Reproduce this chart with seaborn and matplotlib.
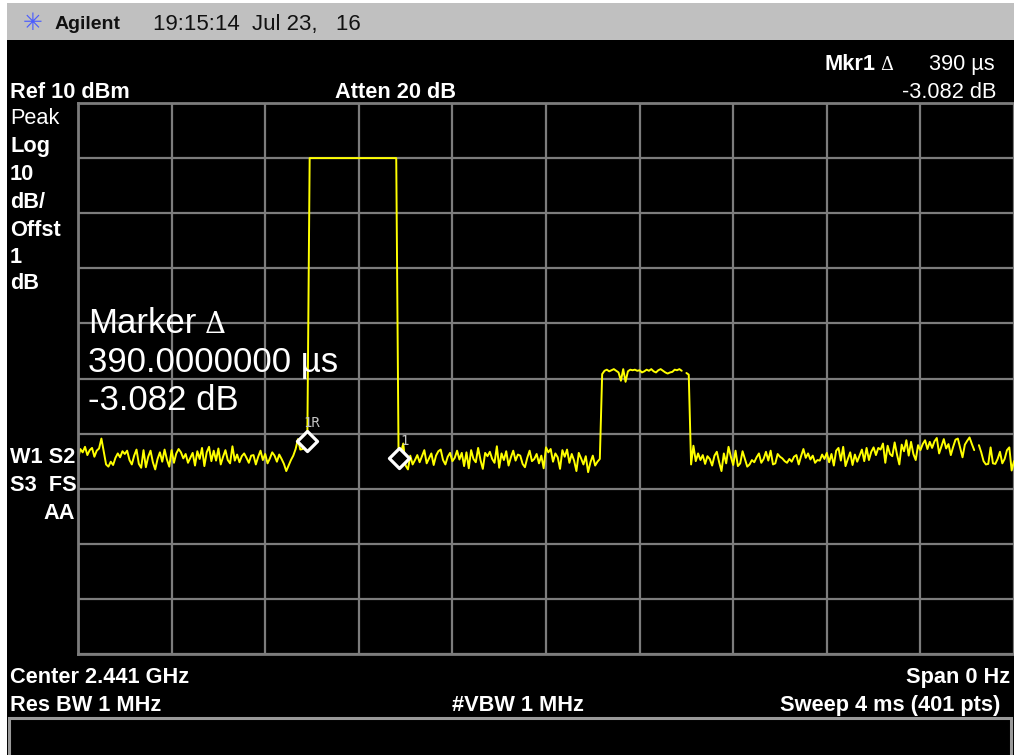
import numpy as np
import pandas as pd
import matplotlib
matplotlib.use("Agg")
import matplotlib.pyplot as plt
import seaborn as sns
from matplotlib.patches import Rectangle

sweep_ms = 4.0
n_pts = 401
ref_dbm = 10
db_per_div = 10

noise_a = [
    -54.6, -52.8, -53.4, -52.4, -53.9, -53.0, -52.6, -54.2, -53.1, -52.7,
    -50.9, -53.3, -55.6, -56.0, -55.1, -55.7, -54.4, -53.6, -54.3, -53.2,
    -53.7, -53.1, -54.8, -55.6, -54.0, -52.9, -55.5, -56.2, -53.0, -56.1,
    -54.2, -53.1, -55.2, -56.5, -54.6, -53.4, -55.1, -52.9, -54.7, -56.0,
    -53.0, -55.3, -53.6, -52.8, -53.4, -54.5, -53.7, -55.3, -54.4, -53.5,
    -55.8, -53.2, -54.6, -52.6, -55.9, -53.4, -52.4, -55.0, -53.1, -54.9,
    -52.7, -55.6, -54.2, -53.0, -54.8, -55.4, -52.3, -54.9, -53.8, -55.2,
    -54.1, -53.6, -54.4, -55.3, -54.0, -53.9, -55.6, -54.2, -53.1, -54.8,
    -53.7, -55.4, -54.5, -53.4, -54.0, -55.1, -53.8, -54.6, -55.5, -56.8,
    -55.8, -54.8, -54.0, -52.8, -51.0, -52.9, -52.8, -51.8,
]
mkr_ref_level = [-51.3]
pulse1 = [
    0.0, 0.0, 0.0, 0.0, 0.0, 0.0, 0.0, 0.0, 0.0, 0.0,
    0.0, 0.0, 0.0, 0.0, 0.0, 0.0, 0.0, 0.0, 0.0, 0.0,
    0.0, 0.0, 0.0, 0.0, 0.0, 0.0, 0.0, 0.0, 0.0, 0.0,
    0.0, 0.0, 0.0, 0.0, 0.0, 0.0, 0.0, 0.0,
]
mkr_delta_level = [-54.4]
noise_b = [
    -53.5, -51.8, -55.8, -56.5, -54.0, -55.6, -54.8, -53.9, -55.2, -54.1,
    -53.0, -55.4, -54.5, -53.6, -55.7, -54.0, -53.2, -52.9, -54.8, -55.6,
    -54.2, -53.5, -55.0, -54.4, -53.1, -54.7, -53.5, -55.9, -53.4, -56.3,
    -53.0, -54.6, -55.2, -52.6, -54.8, -56.4, -53.5, -54.1, -53.3, -54.6,
    -55.3, -52.3, -56.2, -53.6, -54.8, -53.2, -55.8, -54.3, -53.1, -54.9,
    -53.8, -54.0, -55.5, -56.1, -54.4, -53.1, -55.0, -54.6, -53.7, -55.4,
    -54.0, -56.3, -52.5, -53.4, -52.8, -55.1, -53.6, -54.3, -56.4, -53.0,
    -54.2, -52.9, -55.3, -53.7, -54.9, -56.8, -53.5, -54.5, -55.6, -54.1,
    -57.0, -55.2, -54.0, -55.8, -55.1, -54.6,
]
pulse2 = [
    -39.2, -38.6, -38.4, -38.7, -38.5, -38.3, -38.6, -38.9, -40.4, -38.3,
    -40.6, -38.7, -38.4, -38.5, -38.4, -38.6, -38.5, -38.9, -38.7, -38.4,
    -38.6, -38.3, -38.7, -38.9, -38.5, -38.3, -38.6, -38.9, -39.1, -38.9,
    -38.8, -38.4, -38.5, -38.3, -38.6, np.nan, -39.0, -39.3,
]
noise_c = [
    -55.6, -52.2, -55.0, -53.6, -54.8, -53.9, -55.5, -54.1, -54.6, -55.8,
    -54.0, -53.3, -55.2, -56.8, -53.6, -55.4, -52.4, -54.2, -55.7, -53.1,
    -55.9, -55.4, -53.2, -54.6, -56.0, -55.6, -54.8, -55.2, -54.3, -53.6,
    -55.3, -54.6, -53.3, -54.9, -53.1, -55.6, -55.4, -53.7, -54.2, -54.5,
    -55.0, -55.3, -54.6, -55.1, -54.2, -53.9, -55.6, -54.1, -52.8, -54.4,
    -53.6, -54.7, -54.0, -55.3, -54.8, -54.9, -53.8, -54.6, -53.5, -55.2,
    -53.7, -55.8, -53.1, -52.6, -54.9, -52.4, -55.9, -54.6, -53.4, -55.7,
    -53.8, -55.1, -54.0, -52.9, -55.0, -52.6, -54.8, -53.3, -52.5, -53.9,
    -52.6, -52.9, -51.8, -55.3, -52.2, -53.7, -54.1, -51.6, -53.8, -55.6,
    -52.0, -53.2, -51.2, -54.0, -51.5, -53.7, -54.8, -52.1, -53.0, -51.9,
    -51.2, -52.8, -51.5, -52.6, -51.4, -50.8, -53.6, -52.3, -51.0, -52.7,
    -51.9, -53.9, -52.4, -51.1, -50.9, -52.6, -54.3, -52.0, -51.3, -50.7,
    -51.9, -53.0, np.nan, -52.1, -53.4, -55.0, -55.6, -55.5, -52.5, -55.4,
    -55.5, -54.6, -53.3, -55.4, -54.6, -53.0, -52.5, -56.7, -55.0,
]
mkr_idx = [98, 137]
mkr_names = ["1R", "1"]

level = np.array(noise_a + mkr_ref_level + pulse1 + mkr_delta_level
                 + noise_b + pulse2 + noise_c, dtype=float)
assert len(level) == n_pts, len(level)
time_ms = np.arange(n_pts) * sweep_ms / (n_pts - 1)
seg = np.cumsum(np.isnan(level))
df = pd.DataFrame({"t": time_ms, "lvl": level, "seg": seg}).dropna()

# ---------------- figure ----------------
sns.set_theme(style="dark")
plt.rcParams["font.family"] = ["Liberation Sans", "DejaVu Sans"]

W, H = 1014, 755
fig = plt.figure(figsize=(W / 100, H / 100), dpi=100, facecolor="white")

bg = fig.add_axes([0, 0, 1, 1], zorder=-5)
bg.set_xlim(0, W)
bg.set_ylim(H, 0)
bg.axis("off")
bg.add_patch(Rectangle((7, 3), W - 7, 37, facecolor="#c0c0c0", edgecolor="none"))
bg.add_patch(Rectangle((7, 40), W - 7, H - 40, facecolor="black", edgecolor="none"))
bg.add_patch(Rectangle((9, 718), W - 12, 40, facecolor="black",
                       edgecolor="#9a9a9a", linewidth=2.2))

# plot area
x0, x1, y0, y1 = 78, 1014, 103, 654
ax = fig.add_axes([x0 / W, 1 - y1 / H, (x1 - x0) / W, (y1 - y0) / H], zorder=1)
ax.set_facecolor("black")
sns.lineplot(data=df, x="t", y="lvl", units="seg", estimator=None, sort=False,
             color="#ffff00", linewidth=1.4, ax=ax, legend=False)
sns.scatterplot(x=time_ms[mkr_idx], y=level[mkr_idx], marker="D", s=105,
                color="black", edgecolor="white", linewidth=2.3, ax=ax,
                zorder=5, legend=False)
label_offsets = [(3, 12.5), (4.5, 12.0)]
for i, name, off in zip(mkr_idx, mkr_names, label_offsets):
    ax.annotate(name, (time_ms[i], level[i]), xytext=off,
                textcoords="offset points", ha="center", va="center",
                color="#c4c4c4", fontsize=10, family="DejaVu Sans Mono",
                fontweight="light", zorder=6)

ax.set_xlim(0, sweep_ms)
ax.set_ylim(ref_dbm - 10 * db_per_div, ref_dbm)
ax.set_xticks(np.linspace(0, sweep_ms, 11))
ax.set_yticks(np.arange(ref_dbm - 10 * db_per_div, ref_dbm + 1, db_per_div))
ax.grid(True, color="#7c7c7c", linewidth=1.6)
ax.tick_params(length=0, labelbottom=False, labelleft=False)
ax.set_xlabel("")
ax.set_ylabel("")
for s in ax.spines.values():
    s.set_color("#7c7c7c")
    s.set_linewidth(2.0)
ax.spines["right"].set_visible(False)


def T(x, y, s, size=15.7, weight="bold", color="white", ha="left",
      va="baseline", family=None):
    kw = {}
    if family:
        kw["family"] = family
    fig.text(x / W, 1 - y / H, s, fontsize=size, fontweight=weight, color=color,
             ha=ha, va=va, zorder=10, **kw)


# header bar
T(33, 30, "✳", size=17, weight="normal", color="#4a5cff", ha="center",
  family="DejaVu Sans")
T(55, 29, "Agilent", size=14, color="#111111")
T(153, 30, "19:15:14  Jul 23,   16", size=16, weight="normal", color="#111111")

# top annotations
T(825, 70, "Mkr1", size=15.7)
T(880, 70, "Δ", size=13, weight="normal", family="DejaVu Serif")
T(995, 70, "390 µs", size=15.7, weight="normal", ha="right")
T(10, 98, "Ref 10 dBm")
T(335, 98, "Atten 20 dB")
T(996, 98, "-3.082 dB", weight="normal", ha="right")

# left column
left_rows = [("Peak", 124, "normal"), ("Log", 152, "bold"), ("10", 180, "bold"),
             ("dB/", 208, "bold"), ("Offst", 236, "bold"), ("1", 263, "bold"),
             ("dB", 289, "bold")]
for s, y, w in left_rows:
    T(10, y, s, weight=w)
T(10, 463, "W1 S2")
T(10, 491, "S3  FS")
T(75, 519, "AA", ha="right")

# big marker readout
T(88, 333, "Marker", size=25, weight="normal")
T(205, 333, "Δ", size=21, weight="normal", family="DejaVu Serif")
T(88, 372, "390.0000000 µs", size=25, weight="normal")
T(88, 410, "-3.082 dB", size=25, weight="normal")

# bottom annotations
T(10, 683, "Center 2.441 GHz")
T(1010, 683, "Span 0 Hz", ha="right")
T(10, 711, "Res BW 1 MHz")
T(452, 711, "#VBW 1 MHz")
T(1000, 711, "Sweep 4 ms (401 pts)", ha="right")

fig.savefig("out.png", dpi=100, facecolor=fig.get_facecolor())
